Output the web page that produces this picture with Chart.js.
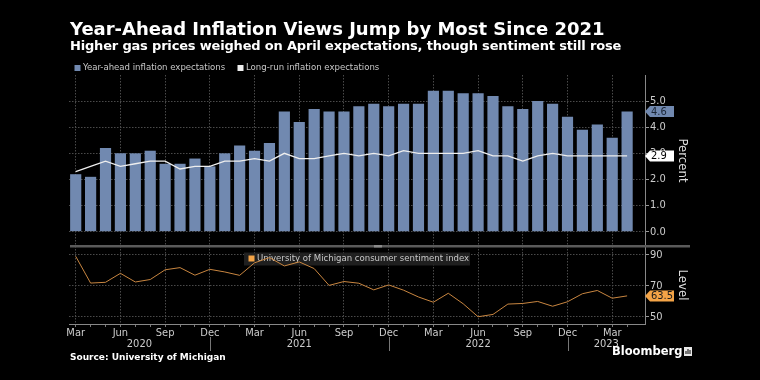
<!DOCTYPE html>
<html>
<head>
<meta charset="utf-8">
<script src="https://cdn.jsdelivr.net/npm/chart.js@4.4.0/dist/chart.umd.min.js"></script>
<style>
  body { margin: 0; background: #000; }
  #wrap { position: relative; width: 760px; height: 380px; background: #000; overflow: hidden; }
  #chart { position: absolute; left: 0; top: 0; }
  .txt { position: absolute; color: #fff; font-family: "DejaVu Sans", sans-serif; font-weight: bold; white-space: nowrap; }
</style>
</head>
<body>
<div id="wrap">
  <canvas id="chart" width="760" height="380"></canvas>
  <div class="txt" style="left:70px;top:18px;font-size:18px;">Year-Ahead Inflation Views Jump by Most Since 2021</div>
  <div class="txt" style="left:70px;top:38px;font-size:13px;letter-spacing:-0.18px;">Higher gas prices weighed on April expectations, though sentiment still rose</div>
  <div class="txt" style="left:70px;top:352px;font-size:9px;">Source: University of Michigan</div>
  <div class="txt" style="left:612px;top:344px;font-size:11.5px;">Bloomberg</div>
</div>
<script>
// monthly survey readings, Mar 2020 .. Apr 2023
const monthLabels = [
  'Mar','Apr','May','Jun','Jul','Aug','Sep','Oct','Nov','Dec',
  'Jan','Feb','Mar','Apr','May','Jun','Jul','Aug','Sep','Oct','Nov','Dec',
  'Jan','Feb','Mar','Apr','May','Jun','Jul','Aug','Sep','Oct','Nov','Dec',
  'Jan','Feb','Mar','Apr'
];
const yearLabels = ['2020', '2021', '2022', '2023'];
const quarterMonths = ['Mar', 'Jun', 'Sep', 'Dec'];

const yearAhead = [
  2.2, 2.1, 3.2, 3.0, 3.0, 3.1, 2.6, 2.6, 2.8, 2.5,
  3.0, 3.3, 3.1, 3.4, 4.6, 4.2, 4.7, 4.6, 4.6, 4.8, 4.9, 4.8,
  4.9, 4.9, 5.4, 5.4, 5.3, 5.3, 5.2, 4.8, 4.7, 5.0, 4.9, 4.4,
  3.9, 4.1, 3.6, 4.6
];
const longRun = [
  2.3, 2.5, 2.7, 2.5, 2.6, 2.7, 2.7, 2.4, 2.5, 2.5,
  2.7, 2.7, 2.8, 2.7, 3.0, 2.8, 2.8, 2.9, 3.0, 2.9, 3.0, 2.9,
  3.1, 3.0, 3.0, 3.0, 3.0, 3.1, 2.9, 2.9, 2.7, 2.9, 3.0, 2.9,
  2.9, 2.9, 2.9, 2.9
];
const sentiment = [
  89.1, 71.8, 72.3, 78.1, 72.5, 74.1, 80.4, 81.8, 76.9, 80.7,
  79.0, 76.8, 84.9, 88.3, 82.9, 85.5, 81.2, 70.3, 72.8, 71.7, 67.4, 70.6,
  67.2, 62.8, 59.4, 65.2, 58.4, 50.0, 51.5, 58.2, 58.6, 59.9, 56.8, 59.7,
  64.9, 67.0, 62.0, 63.5
];
const percentTicks = [0, 1, 2, 3, 4, 5];
const levelTicks = [50, 60, 70, 80, 90];

const BAR = '#7189b0';
const LINE = '#eeeeee';
const ORANGE = '#f4a447';
const FONT = '"DejaVu Sans Condensed", "Liberation Sans Narrow", "DejaVu Sans", sans-serif';
const GRID = '#4a4a4a';

const points = arr => arr.map((v, i) => ({ x: i, y: v }));

function tag(ctx, x, y, text, bg, fg) {
  ctx.save();
  ctx.fillStyle = bg;
  ctx.beginPath();
  ctx.moveTo(x, y);
  ctx.lineTo(x + 5, y - 5.5);
  ctx.lineTo(x + 29, y - 5.5);
  ctx.lineTo(x + 29, y + 5.5);
  ctx.lineTo(x + 5, y + 5.5);
  ctx.closePath();
  ctx.fill();
  ctx.fillStyle = fg;
  ctx.font = '11px ' + FONT;
  ctx.textBaseline = 'middle';
  ctx.textAlign = 'left';
  ctx.fillText(text, x + 6, y + 0.5);
  ctx.restore();
}

const decor = {
  id: 'decor',
  beforeDatasetsDraw(chart) {
    const ctx = chart.ctx;
    // legend box inside the lower panel
    ctx.save();
    ctx.fillStyle = 'rgba(34,34,34,0.92)';
    ctx.fillRect(244, 252.5, 226, 13);
    ctx.fillStyle = ORANGE;
    ctx.fillRect(248.5, 255.5, 6, 6);
    ctx.fillStyle = '#c8c8c8';
    ctx.font = '9.5px ' + FONT;
    ctx.textBaseline = 'middle';
    ctx.fillText(chart.data.datasets[2].label, 257, 259);
    ctx.restore();
  },
  afterDraw(chart) {
    const ctx = chart.ctx;
    const x = chart.scales.x, y = chart.scales.y, y2 = chart.scales.y2;
    const area = chart.chartArea;

    // top legend
    ctx.save();
    ctx.font = '9.5px ' + FONT;
    ctx.textBaseline = 'middle';
    ctx.fillStyle = BAR;
    ctx.fillRect(74.5, 65, 6, 6);
    ctx.fillStyle = '#c8c8c8';
    ctx.fillText(chart.data.datasets[1].label, 83, 68);
    ctx.fillStyle = LINE;
    ctx.fillRect(237.5, 65, 6, 6);
    ctx.fillStyle = '#c8c8c8';
    ctx.fillText(chart.data.datasets[0].label, 246, 68);

    // panel separator
    ctx.fillStyle = '#5a5a5a';
    ctx.fillRect(70, y.bottom - 1, 620, 2.5);
    ctx.fillStyle = '#8a8a8a';
    ctx.fillRect(374, y.bottom - 1, 8, 2.5);

    // year labels under the months
    const decs = monthLabels.map((m, i) => m === 'Dec' ? i : -1).filter(i => i >= 0);
    const bounds = [area.left].concat(decs.map(i => x.getPixelForValue(i)), [area.right]);
    ctx.strokeStyle = '#777';
    ctx.lineWidth = 1;
    decs.forEach(i => {
      const px = Math.round(x.getPixelForValue(i)) + 0.5;
      ctx.beginPath();
      ctx.moveTo(px, 337);
      ctx.lineTo(px, 351);
      ctx.stroke();
    });
    ctx.fillStyle = '#cccccc';
    ctx.font = '11px ' + FONT;
    ctx.textAlign = 'center';
    yearLabels.forEach((lab, k) => {
      ctx.fillText(lab, (bounds[k] + bounds[k + 1]) / 2, 344);
    });
    ctx.restore();

    // last-value tags
    const last = yearAhead.length - 1;
    tag(ctx, area.right, y.getPixelForValue(yearAhead[last]), yearAhead[last].toFixed(1), BAR, '#1a2535');
    tag(ctx, area.right, y.getPixelForValue(longRun[last]), longRun[last].toFixed(1), '#ffffff', '#000000');
    tag(ctx, area.right, y2.getPixelForValue(sentiment[last]), sentiment[last].toFixed(1), ORANGE, '#1a1a1a');

    // logo mark
    ctx.save();
    ctx.fillStyle = '#e8e8e8';
    ctx.fillRect(684, 347, 8, 9);
    ctx.fillStyle = '#000';
    ctx.fillRect(685.5, 351, 1, 3);
    ctx.fillRect(687.5, 349, 1, 5);
    ctx.fillRect(689.5, 350, 1, 4);
    ctx.restore();
  }
};

const ctx = document.getElementById('chart').getContext('2d');
new Chart(ctx, {
  data: {
    datasets: [
      {
        type: 'line',
        label: 'Long-run inflation expectations',
        data: points(longRun),
        yAxisID: 'y',
        borderColor: LINE,
        borderWidth: 1.3,
        pointRadius: 0,
        order: 0
      },
      {
        type: 'bar',
        label: 'Year-ahead inflation expectations',
        data: points(yearAhead),
        yAxisID: 'y',
        backgroundColor: BAR,
        barPercentage: 0.75,
        categoryPercentage: 1,
        order: 1
      },
      {
        type: 'line',
        label: 'University of Michigan consumer sentiment index',
        data: points(sentiment),
        yAxisID: 'y2',
        borderColor: '#c98640',
        borderWidth: 1,
        pointRadius: 0,
        order: 0
      }
    ]
  },
  options: {
    responsive: false,
    animation: false,
    layout: { padding: { left: 69, top: 75, right: 70, bottom: 0 } },
    plugins: { legend: { display: false }, tooltip: { enabled: false } },
    scales: {
      x: {
        type: 'linear',
        offset: false,
        min: -0.45,
        max: 38.2,
        afterBuildTicks: s => { s.ticks = monthLabels.map((m, i) => ({ value: i })); },
        afterFit: s => { s.height = 56; s.paddingLeft = 0; s.paddingRight = 0; },
        ticks: {
          autoSkip: false,
          maxRotation: 0,
          padding: 0,
          color: '#cccccc',
          font: { family: FONT, size: 11 },
          callback: v => quarterMonths.includes(monthLabels[v]) ? monthLabels[v] : ''
        },
        grid: {
          offset: false,
          color: c => c.tick && quarterMonths.includes(monthLabels[c.tick.value]) ? GRID : 'rgba(0,0,0,0)',
          tickColor: '#777',
          tickLength: 3,
          tickBorderDash: []
        },
        border: { color: '#888', dash: [1.5, 1.5] }
      },
      y: {
        type: 'linear',
        position: 'right',
        stack: 'panels',
        stackWeight: 171,
        min: -0.55,
        max: 6.0,
        afterBuildTicks: s => { s.ticks = percentTicks.map(v => ({ value: v })); },
        afterFit: s => { s.width = 45; },
        ticks: { padding: 1, color: '#cccccc', font: { family: FONT, size: 11 }, callback: v => v.toFixed(1) },
        grid: { color: GRID, tickColor: '#999', tickLength: 4, tickBorderDash: [] },
        border: { color: '#888', dash: [1.5, 1.5] },
        title: { display: true, text: 'Percent', color: '#dddddd', font: { family: FONT, size: 13 }, padding: 0 }
      },
      y2: {
        type: 'linear',
        position: 'right',
        stack: 'panels',
        stackWeight: 78,
        min: 45.3,
        max: 95.8,
        afterBuildTicks: s => { s.ticks = levelTicks.map(v => ({ value: v })); },
        afterFit: s => { s.width = 45; },
        ticks: { padding: 1, color: '#cccccc', font: { family: FONT, size: 11 }, callback: v => String(v) },
        grid: { color: GRID, tickColor: '#999', tickLength: 4, tickBorderDash: [] },
        border: { color: '#888', dash: [1.5, 1.5] },
        title: { display: true, text: 'Level', color: '#dddddd', font: { family: FONT, size: 13 }, padding: 0 }
      }
    }
  },
  plugins: [decor]
});
</script>
</body>
</html>
